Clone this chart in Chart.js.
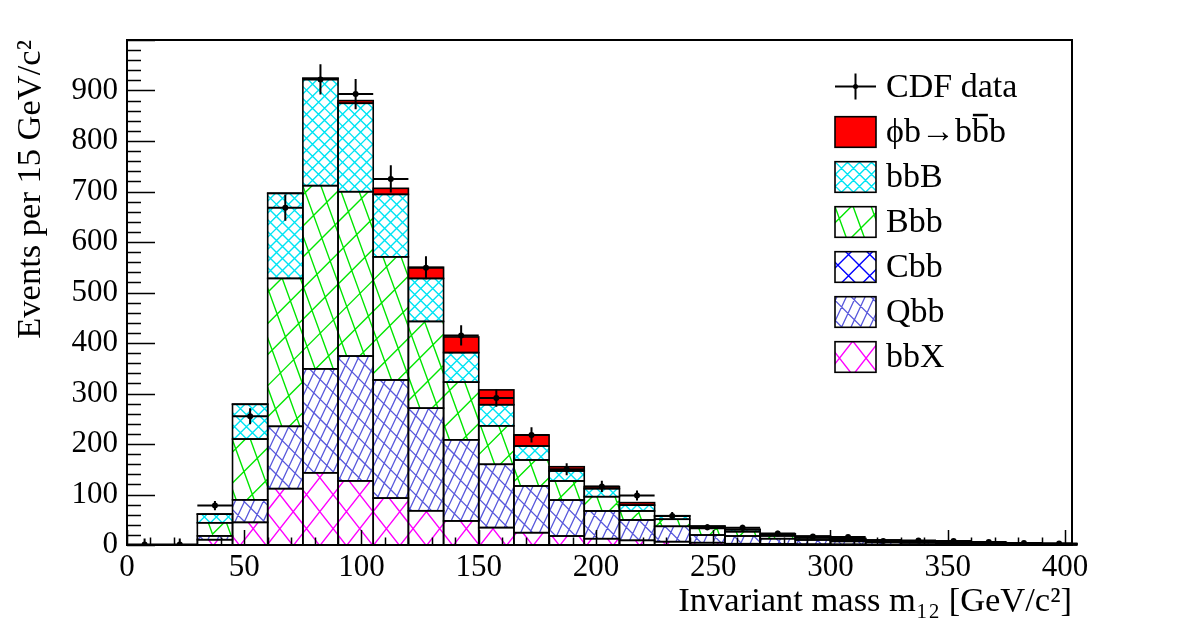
<!DOCTYPE html>
<html><head><meta charset="utf-8">
<script src="https://cdn.jsdelivr.net/npm/chart.js@4.4.0/dist/chart.umd.min.js"></script>
<style>html,body{margin:0;padding:0;background:#fff;}#wrap{width:1182px;height:634px;position:relative;}</style>
</head><body><div id="wrap"><canvas id="c" width="1182" height="634"></canvas></div>
<script>
// ---- data ----
const binLow = [0,15,30,45,60,75,90,105,120,135,150,165,180,195,210,225,240,255,270,285,300,315,330,345,360,375,390];
const binWidth = 15;
const bbX  = [0,0,10.5,44.8,111.6,143,127,92.9,67.8,47.7,34.5,24.4,17.8,12.5,9.2,6.6,4.6,2.5,2,1.5,1.2,1,0.8,0.6,0.5,0.4,0.3];
const Qbb  = [0,0,7.5,44.7,123.4,205.8,247.2,233.9,203.2,160.6,125.3,92.5,71.2,54.9,40.3,30.4,15.2,15.3,10.5,8.5,6,4.5,3.7,2.8,2.3,1.8,1.4];
const Cbb  = [0,0,0,0,0,0,0,0,0,0,0,0,0,0,0,0,0,0,0,0,0,0,0,0,0,0,0];
const Bbb  = [0,0,26,120.3,292.9,362.8,325.4,243.8,171.7,114.2,76.2,51.5,37.8,28.3,17.9,14,13.2,8.6,5.5,4,3,2.5,2,1.5,1.2,1,0.7];
const bbB  = [0,0,17,68.8,168.4,211.9,175.1,123.7,85.1,58.5,41.8,27.6,19.8,15.9,11.6,6.5,4,4,3.5,3,2.4,1.7,1.3,1,0.9,0.7,0.5];
const phib = [0,0,0.5,0.5,0.5,1,5.3,12,22.2,31,29.4,22,8.4,4,4.9,0.5,0.6,0.6,0.5,0.5,0.4,0.3,0.2,0.1,0.1,0.1,0.1];
const cdfData = [1,1,78,255,668,922,893,725,549,415,291,218,150,116,98,57.5,35,34,23,17,16,8,9,8,6,4,3];
const cdfErr  = [12,12,9,16,26,30,30,27,23,20,17,15,12,11,10,7.6,6,6,5,4,4,3,3,3,2.5,2,2];
const xMin = 0, xMax = 403, xMajor = 50, xMinor = 10;
const yMin = 0, yMax = 1000, yMajor = 100, yMinor = 20;

const FONT = "'Liberation Serif', 'DejaVu Serif', serif";
Chart.defaults.font.family = FONT;
Chart.defaults.color = '#000';

const centers = binLow.map(v => v + binWidth / 2);
const pts = arr => arr.map((v, i) => ({x: centers[i], y: v}));

const styles = {
  bbX:  {color:'#ff00ff', lw:1.4, lines:[{a:52,s:21},{a:-52,s:21}]},
  Qbb:  {color:'#5858dc', lw:1.3, lines:[{a:65,s:8.5},{a:-45,s:14}]},
  Cbb:  {color:'#0000ff', lw:1.4, lines:[{a:45,s:15},{a:-45,s:15}]},
  Bbb:  {color:'#00e600', lw:1.4, lines:[{a:-70,s:17},{a:45,s:22}]},
  bbB:  {color:'#00e4f4', lw:1.4, lines:[{a:45,s:8.5},{a:-45,s:8.5}]},
  phib: {fill:'#ff0000'}
};

function hatchRect(ctx, x0, y0, x1, y1, st) {
  ctx.save();
  ctx.fillStyle = st.fill || '#ffffff';
  ctx.fillRect(x0, y0, x1 - x0, y1 - y0);
  if (st.lines) {
    ctx.beginPath(); ctx.rect(x0, y0, x1 - x0, y1 - y0); ctx.clip();
    ctx.strokeStyle = st.color; ctx.lineWidth = st.lw;
    ctx.beginPath();
    const mx = (x0 + x1) / 2, my = (y0 + y1) / 2;
    const diag = Math.hypot(x1 - x0, y1 - y0) + 10;
    for (const L of st.lines) {
      const t = L.a * Math.PI / 180;
      const dx = Math.cos(t), dy = -Math.sin(t);
      const nx = -dy, ny = dx;
      let pmin = Infinity, pmax = -Infinity;
      for (const [cx, cy] of [[x0,y0],[x1,y0],[x0,y1],[x1,y1]]) {
        const p = cx * nx + cy * ny; pmin = Math.min(pmin, p); pmax = Math.max(pmax, p);
      }
      const off = L.o || 0;
      const k0 = Math.floor((pmin - off) / L.s), k1 = Math.ceil((pmax - off) / L.s);
      const pm = mx * nx + my * ny;
      for (let k = k0; k <= k1; k++) {
        const p = k * L.s + off;
        const px = mx + (p - pm) * nx, py = my + (p - pm) * ny;
        ctx.moveTo(px - dx * diag, py - dy * diag);
        ctx.lineTo(px + dx * diag, py + dy * diag);
      }
    }
    ctx.stroke();
  }
  ctx.restore();
}

const legendItems = [
  {label:'CDF data', type:'data'},
  {label:'phib', key:'phib'},
  {label:'bbB', key:'bbB'},
  {label:'Bbb', key:'Bbb'},
  {label:'Cbb', key:'Cbb'},
  {label:'Qbb', key:'Qbb'},
  {label:'bbX', key:'bbX'}
];

const histPlugin = {
  id: 'hist',
  beforeDatasetsDraw(chart) {
    const ctx = chart.ctx;
    const rects = [];
    chart.data.datasets.forEach((ds, di) => {
      if (!ds.styleKey) return;
      const st = styles[ds.styleKey];
      const meta = chart.getDatasetMeta(di);
      meta.data.forEach(el => {
        const p = el.getProps(['x', 'y', 'base', 'width'], true);
        const x0 = p.x - p.width / 2, x1 = p.x + p.width / 2;
        const top = Math.min(p.y, p.base), bot = Math.max(p.y, p.base);
        if (bot - top < 0.05) return;
        hatchRect(ctx, x0, top, x1, bot, st);
        rects.push([x0, top, x1, bot]);
      });
    });
    ctx.save(); ctx.strokeStyle = '#000'; ctx.lineWidth = 1.6;
    rects.forEach(r => ctx.strokeRect(r[0], r[1], r[2] - r[0], r[3] - r[1]));
    ctx.restore();
  },
  afterDatasetsDraw(chart) {
    const ctx = chart.ctx, xs = chart.scales.x, ys = chart.scales.y, ca = chart.chartArea;
    // error bars
    ctx.save();
    ctx.beginPath(); ctx.rect(ca.left, ca.top, ca.right - ca.left, ca.bottom - ca.top); ctx.clip();
    ctx.strokeStyle = '#000'; ctx.lineWidth = 2;
    ctx.beginPath();
    cdfData.forEach((v, i) => {
      const py = ys.getPixelForValue(v);
      ctx.moveTo(xs.getPixelForValue(binLow[i]), py);
      ctx.lineTo(xs.getPixelForValue(binLow[i] + binWidth), py);
      const px = xs.getPixelForValue(centers[i]);
      ctx.moveTo(px, ys.getPixelForValue(v - cdfErr[i]));
      ctx.lineTo(px, ys.getPixelForValue(v + cdfErr[i]));
    });
    ctx.stroke();
    ctx.restore();
    // ticks
    ctx.save();
    ctx.strokeStyle = '#000'; ctx.lineWidth = 1.5;
    ctx.beginPath();
    for (let v = yMin; v <= yMax; v += yMinor) {
      const py = Math.round(ys.getPixelForValue(v)) + 0.5;
      const len = (v % yMajor === 0) ? 28 : 14;
      ctx.moveTo(ca.left, py); ctx.lineTo(ca.left + len, py);
    }
    for (let v = xMin; v <= 400; v += xMinor) {
      const px = Math.round(xs.getPixelForValue(v)) + 0.5;
      const len = (v % xMajor === 0) ? 15 : 7.5;
      ctx.moveTo(px, ca.bottom); ctx.lineTo(px, ca.bottom - len);
    }
    ctx.stroke();
    ctx.lineWidth = 2;
    ctx.strokeRect(ca.left, ca.top, ca.right - ca.left, ca.bottom - ca.top);
    ctx.restore();
    // legend
    ctx.save();
    const bx0 = 835, bx1 = 876, tx = 886;
    ctx.font = '34px ' + FONT; ctx.fillStyle = '#000'; ctx.textBaseline = 'alphabetic';
    legendItems.forEach((it, k) => {
      if (it.type === 'data') {
        const cy = 86.5;
        ctx.strokeStyle = '#000'; ctx.lineWidth = 2;
        ctx.beginPath();
        ctx.moveTo(bx0, cy); ctx.lineTo(bx1, cy);
        ctx.moveTo((bx0 + bx1) / 2, cy - 13); ctx.lineTo((bx0 + bx1) / 2, cy + 13);
        ctx.stroke();
        ctx.beginPath(); ctx.arc((bx0 + bx1) / 2, cy, 2.5, 0, Math.PI * 2); ctx.fillStyle = '#000'; ctx.fill();
        ctx.fillText(it.label, tx, 97);
        return;
      }
      const top = 116.7 + (k - 1) * 45, bot = top + 30.6;
      hatchRect(ctx, bx0, top, bx1, bot, styles[it.key]);
      ctx.strokeStyle = '#000'; ctx.lineWidth = 1.6;
      ctx.strokeRect(bx0, top, bx1 - bx0, bot - top);
      ctx.fillStyle = '#000';
      const base = bot - 5.5;
      if (it.key === 'phib') {
        const s1 = '\u03D5b\u2192b';
        ctx.fillText(s1, tx, base);
        let w1 = ctx.measureText(s1).width;
        ctx.fillText('b', tx + w1, base);
        const wb = ctx.measureText('b').width;
        ctx.fillRect(tx + w1 + 1, base - 28, wb - 2, 2.5);
        ctx.fillText('b', tx + w1 + wb, base);
      } else {
        ctx.fillText(it.label, tx, base);
      }
    });
    ctx.restore();
  }
};

const barDefaults = {type:'bar', stack:'mc', backgroundColor:'rgba(0,0,0,0)', borderWidth:0, barPercentage:1, categoryPercentage:1, grouped:false};

new Chart(document.getElementById('c'), {
  type: 'bar',
  data: {
    datasets: [
      {type:'scatter', label:'CDF data', stack:'data', data: pts(cdfData), pointRadius:3, pointBackgroundColor:'#000', pointBorderWidth:0, order:0},
      Object.assign({label:'bbX', styleKey:'bbX', data: pts(bbX), order:1}, barDefaults),
      Object.assign({label:'Qbb', styleKey:'Qbb', data: pts(Qbb), order:2}, barDefaults),
      Object.assign({label:'Cbb', styleKey:'Cbb', data: pts(Cbb), order:3}, barDefaults),
      Object.assign({label:'Bbb', styleKey:'Bbb', data: pts(Bbb), order:4}, barDefaults),
      Object.assign({label:'bbB', styleKey:'bbB', data: pts(bbB), order:5}, barDefaults),
      Object.assign({label:'\u03D5b\u2192bb\u0305b', styleKey:'phib', data: pts(phib), order:6}, barDefaults)
    ]
  },
  options: {
    responsive: false, animation: false, devicePixelRatio: 1,
    layout: {padding: {top: 40, right: 110, left: 0, bottom: 0}},
    plugins: {legend: {display: false}, tooltip: {enabled: false}},
    scales: {
      x: {type:'linear', min:xMin, max:xMax, offset:false,
          ticks:{stepSize:xMajor, includeBounds:false, autoSkip:false, maxRotation:0, font:{size:31}, color:'#000', padding:4},
          grid:{display:false, drawTicks:false, offset:false}, border:{display:false},
          title:{display:true, text:'Invariant mass m\u2081\u2082 [GeV/c\u00B2]', align:'end', font:{size:34.5}, color:'#000', padding:{top:0, bottom:11}},
          afterFit(s){ s.height = 89; }},
      y: {type:'linear', stacked:true, min:yMin, max:yMax,
          ticks:{stepSize:yMajor, font:{size:31}, color:'#000', padding:9, callback: v => v >= yMax ? '' : v},
          grid:{display:false, drawTicks:false}, border:{display:false},
          title:{display:true, text:'Events per 15 GeV/c\u00B2', align:'end', font:{size:34.5}, color:'#000', padding:{top:10, bottom:0}},
          afterFit(s){ s.width = 127; }}
    }
  },
  plugins: [histPlugin]
});
</script>
</body></html>
